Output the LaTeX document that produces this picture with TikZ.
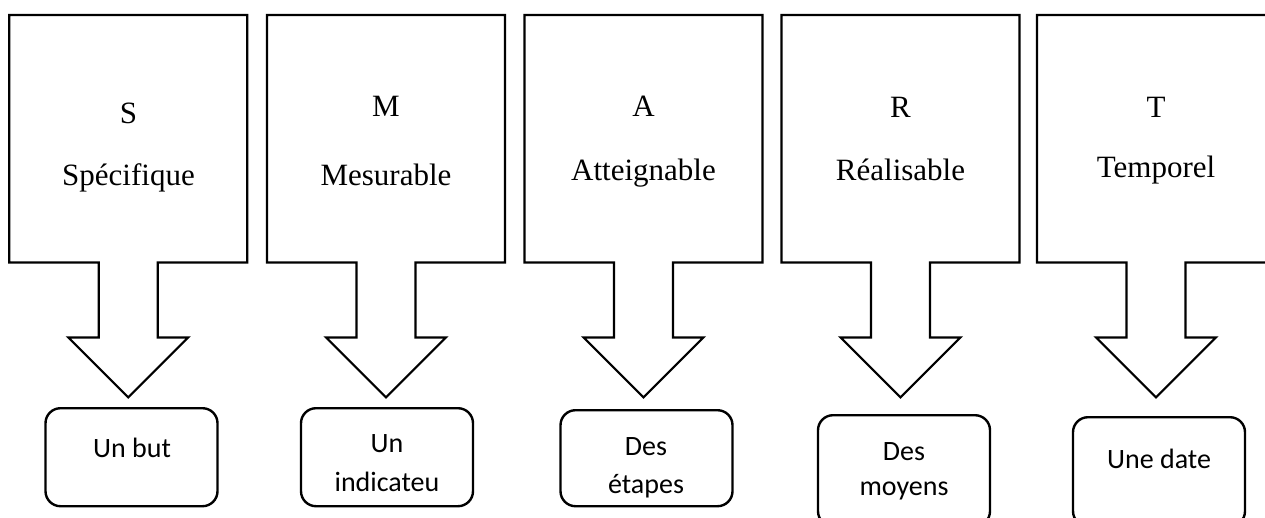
\documentclass[tikz,border=0pt]{standalone}
\usepackage{fontspec}
\setmainfont{Liberation Serif}
\newfontfamily\calib{Carlito}
\usetikzlibrary{calc}
\tikzset{
  frame/.style={draw=black, line width=2.2pt, line join=miter},
  holder/.style={minimum width=237.5pt, minimum height=247pt, inner sep=0pt, anchor=north},
  card/.style={draw=black, line width=2.4pt, rounded corners=15pt, minimum width=172pt, inner sep=0pt, anchor=north},
  big/.style={font=\fontsize{31}{36}\selectfont, anchor=base, inner sep=0pt},
  small/.style={font=\calib\fontsize{28}{34}\selectfont, anchor=base, inner sep=0pt},
}
\newcommand{\blockarrow}[1]{%
  \draw[frame] (#1.north west) -- (#1.north east) -- (#1.south east)
    -- ($(#1.south)+(29.5,0)$) -- ++(0,75) -- ++(30.5,0)
    -- ($(#1.south)+(0,135)$)
    -- ($(#1.south)+(-60,75)$) -- ++(30.5,0)
    -- ($(#1.south)+(-29.5,0)$) -- (#1.south west) -- cycle;}
\begin{document}
\begin{tikzpicture}[x=1pt,y=-1pt]
\useasboundingbox (0,0) rectangle (1265,517);
\clip (0,0) rectangle (1265,517);
% top boxes
\node[holder] (S) at (128.25,15) {};
\node[holder] (M) at (386,15) {};
\node[holder] (A) at (643.5,15) {};
\node[holder] (R) at (900.5,15) {};
\node[holder] (T) at (1156,15) {};
\blockarrow{S}
\blockarrow{M}
\blockarrow{A}
\blockarrow{R}
\blockarrow{T}
% labels in top boxes
\node[big] (s1) at (128.5,123) {S};
\node[big] (s2) at (128.5,185) {Spécifique};
\node[big] (m1) at (386,116) {M};
\node[big] (m2) at (386,185) {Mesurable};
\node[big] (a1) at (643.5,116) {A};
\node[big] (a2) at (643.5,180) {Atteignable};
\node[big] (r1) at (900.5,117) {R};
\node[big] (r2) at (900.5,180) {Réalisable};
\node[big] (t1) at (1156,117) {T};
\node[big] (t2) at (1156,177) {Temporel};
% bottom cards
\node[card, minimum height=98pt] (cS) at (131.5,407) {};
\node[card, minimum height=98pt] (cM) at (387,407) {};
\node[card, minimum height=96pt] (cA) at (646.5,409) {};
\node[card, minimum height=111pt] (cR) at (904,414) {};
\node[card, minimum height=109pt] (cT) at (1159,416) {};
\node[small] (u1) at (132,457) {Un but};
\node[small] (u2) at (387,452) {Un};
\node[small] (u3) at (387,491) {indicateu};
\node[small] (u4) at (646,455) {Des};
\node[small] (u5) at (646,493) {étapes};
\node[small] (u6) at (904,460) {Des};
\node[small] (u7) at (904,495) {moyens};
\node[small] (u8) at (1159,468) {Une date};
\end{tikzpicture}
\end{document}
